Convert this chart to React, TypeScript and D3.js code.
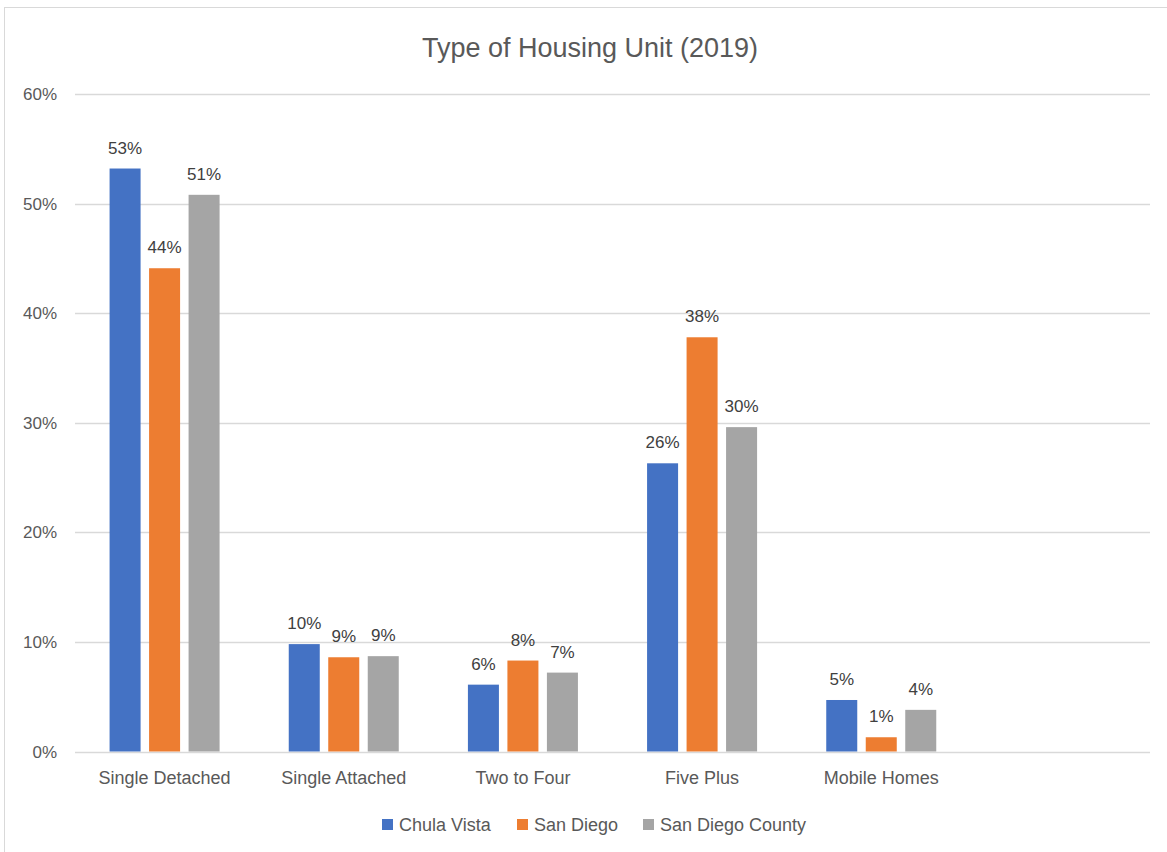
import React, { useEffect, useRef } from 'react'
import * as d3 from 'd3'

// categories (last slot is empty in the original workbook)
const categories = ['Single Detached', 'Single Attached', 'Two to Four', 'Five Plus', 'Mobile Homes', '']
const seriesNames = ['Chula Vista', 'San Diego', 'San Diego County']
const colors = ['#4472C4', '#ED7D31', '#A5A5A5']

const chulaVista = [0.532, 0.098, 0.061, 0.263, 0.047, null]
const sanDiego = [0.441, 0.086, 0.083, 0.378, 0.013, null]
const sanDiegoCounty = [0.508, 0.087, 0.072, 0.296, 0.038, null]

const yTicks = [0, 0.1, 0.2, 0.3, 0.4, 0.5, 0.6]

const W = 1167, H = 852
const FONT = '"Liberation Sans", Arial, sans-serif'

const App = () => {
    const ref = useRef<SVGSVGElement>(null)

    useEffect(() => {
        const svg = d3.select(ref.current)
        svg.selectAll('*').remove()

        const margin = { left: 75, right: 17, top: 94, bottom: 100 }
        const y0 = 751.5

        const values = [chulaVista, sanDiego, sanDiegoCounty]

        const x0 = d3.scaleBand<string>()
            .domain(categories.map((c, i) => i + ''))
            .range([margin.left, W - margin.right])
            .paddingInner(0.386)
            .paddingOuter(0.193)

        const x1 = d3.scaleBand<string>()
            .domain(seriesNames)
            .range([0, x0.bandwidth()])
            .paddingInner(0.215)

        const y = d3.scaleLinear().domain([0, 0.6]).range([y0, margin.top])

        // chart frame
        svg.append('rect')
            .attr('x', 4.5).attr('y', 7.5)
            .attr('width', W).attr('height', H)
            .attr('fill', '#fff')
            .attr('stroke', '#d9d9d9')

        // title
        svg.append('text')
            .attr('x', 590).attr('y', 57)
            .attr('text-anchor', 'middle')
            .style('font-family', FONT)
            .style('font-size', '27px')
            .attr('fill', '#595959')
            .text('Type of Housing Unit (2019)')

        // gridlines
        svg.append('g')
            .selectAll('line')
            .data(yTicks)
            .enter().append('line')
            .attr('x1', margin.left).attr('x2', W - margin.right)
            .attr('y1', d => Math.round(y(d)) + 0.5)
            .attr('y2', d => Math.round(y(d)) + 0.5)
            .attr('stroke', '#d9d9d9')
            .attr('stroke-width', 1.3)

        // y labels
        svg.append('g')
            .selectAll('text')
            .data(yTicks)
            .enter().append('text')
            .attr('x', 57)
            .attr('y', d => y(d) + 6)
            .attr('text-anchor', 'end')
            .style('font-family', FONT)
            .style('font-size', '17px')
            .attr('fill', '#595959')
            .text(d => d3.format('.0%')(d))

        // bars
        values.forEach((vals, s) => {
            const g = svg.append('g')
            const data = vals.map((v, i) => ({ v, i })).filter(d => d.v != null) as { v: number, i: number }[]
            g.selectAll('rect')
                .data(data)
                .enter().append('rect')
                .attr('x', d => x0(d.i + '')! + x1(seriesNames[s])!)
                .attr('y', d => y(d.v))
                .attr('width', x1.bandwidth())
                .attr('height', d => y0 - y(d.v))
                .attr('fill', colors[s])

            g.selectAll('text')
                .data(data)
                .enter().append('text')
                .attr('x', d => x0(d.i + '')! + x1(seriesNames[s])! + x1.bandwidth() / 2)
                .attr('y', d => y(d.v) - 15)
                .attr('text-anchor', 'middle')
                .style('font-family', FONT)
                .style('font-size', '17px')
                .attr('fill', '#404040')
                .text(d => d3.format('.0%')(d.v))
        })

        // x labels
        svg.append('g')
            .selectAll('text')
            .data(categories)
            .enter().append('text')
            .attr('x', (d, i) => x0(i + '')! + x0.bandwidth() / 2)
            .attr('y', 784)
            .attr('text-anchor', 'middle')
            .style('font-family', FONT)
            .style('font-size', '18px')
            .attr('fill', '#595959')
            .text(d => d)

        // legend
        const legendX = [382, 517, 643]
        const legend = svg.append('g')
        seriesNames.forEach((name, s) => {
            legend.append('rect')
                .attr('x', legendX[s]).attr('y', 819)
                .attr('width', 11).attr('height', 11)
                .attr('fill', colors[s])
            legend.append('text')
                .attr('x', legendX[s] + 17).attr('y', 831)
                .style('font-family', FONT)
                .style('font-size', '18px')
                .attr('fill', '#595959')
                .text(name)
        })
    }, [])

    return (
        <svg ref={ref} width={W} height={H}
            style={{ position: 'absolute', left: 0, top: 0, background: '#fff' }}>
        </svg>
    )
}
export default App
